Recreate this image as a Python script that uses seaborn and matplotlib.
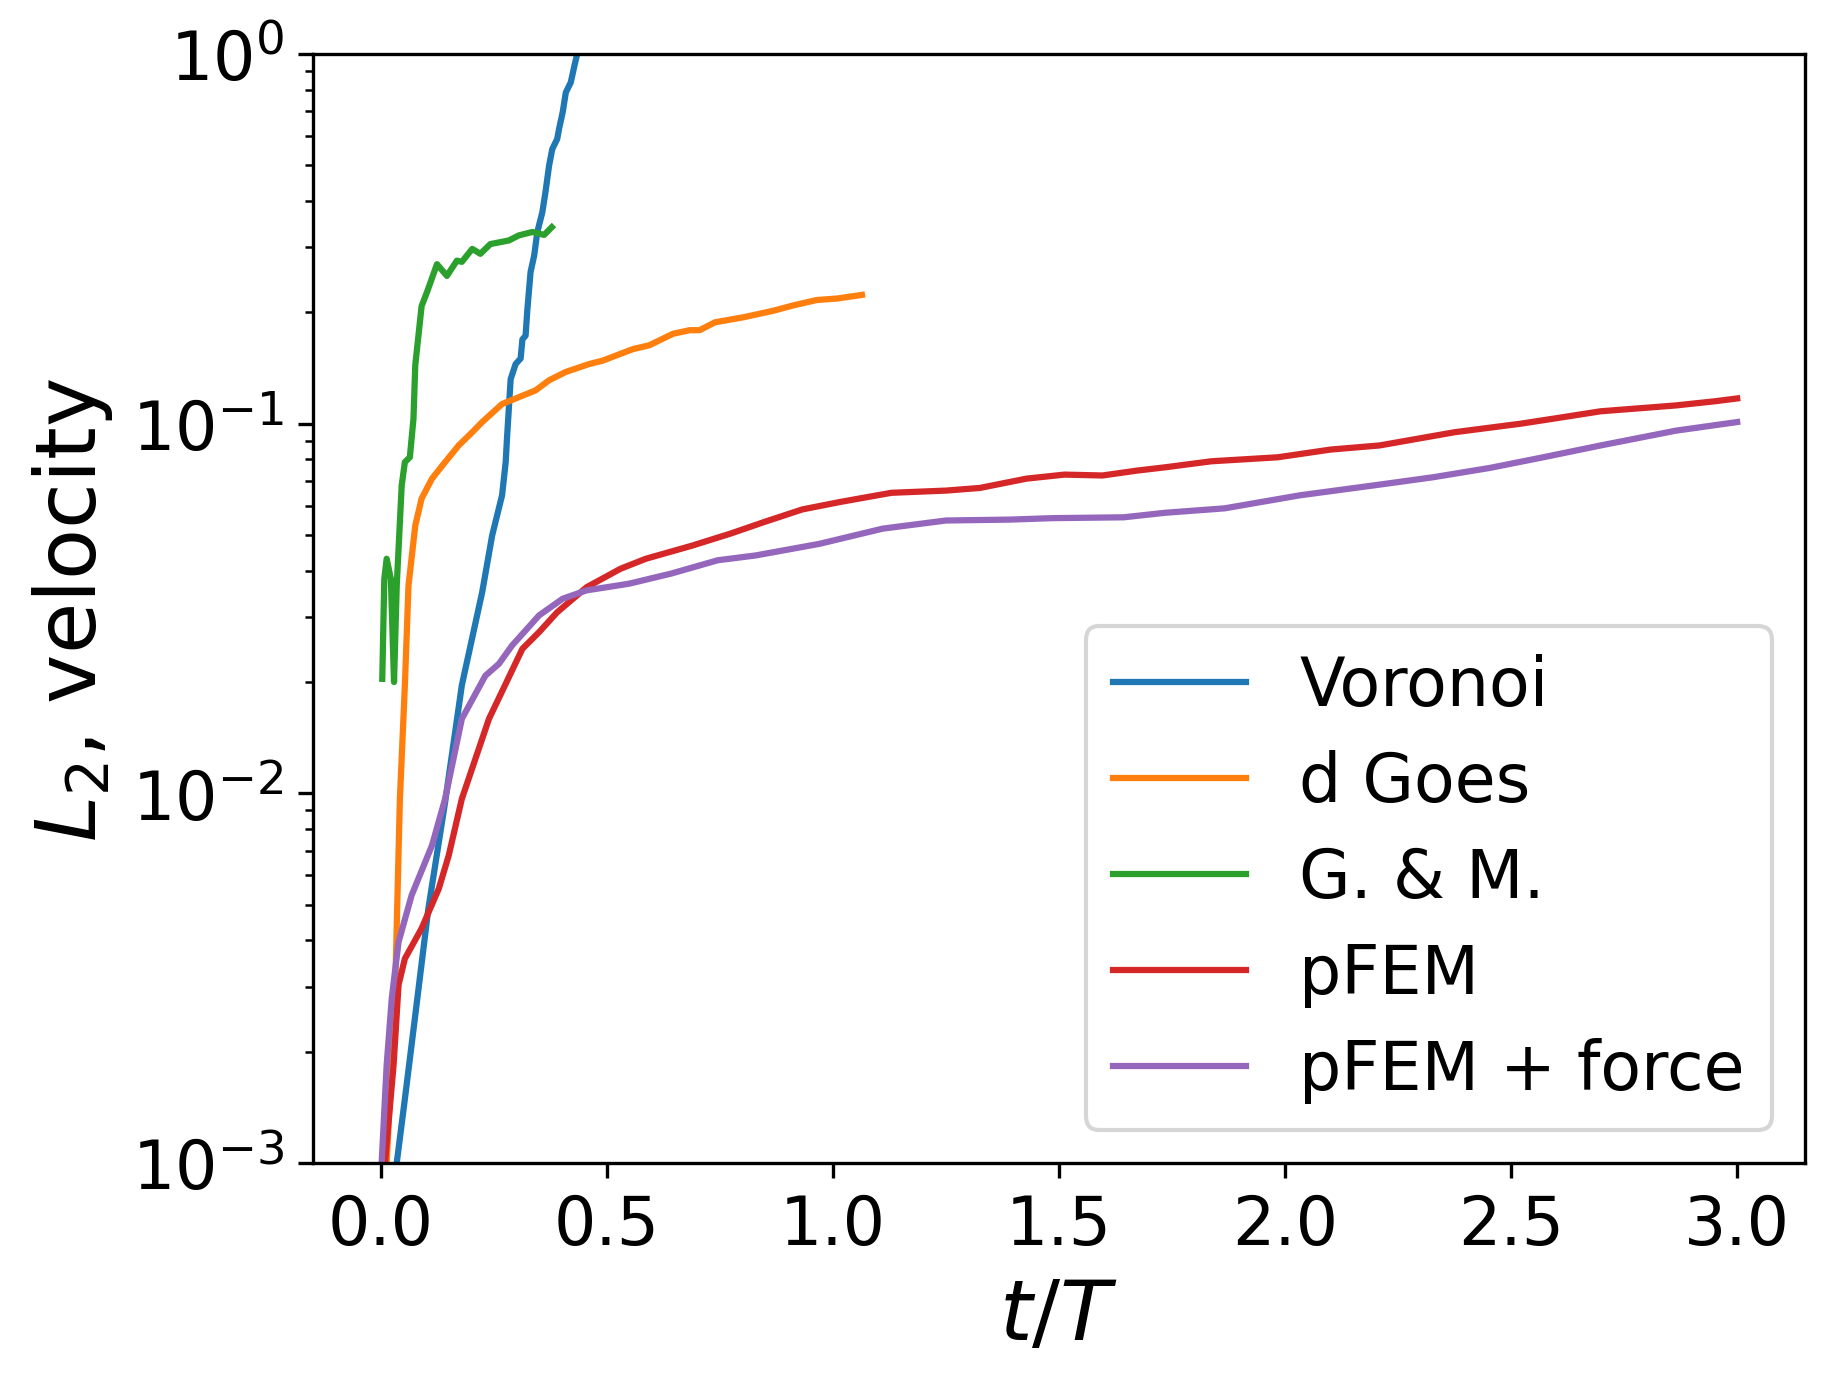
import pandas as pd
import seaborn as sns
import matplotlib
import matplotlib.pyplot as plt

matplotlib.use('Agg')

# Values (t/T, L2 velocity error)
voronoi_t = [0.035, 0.053, 0.076, 0.105, 0.142, 0.179, 0.224, 0.246, 0.268, 0.276, 0.279,
             0.287, 0.298, 0.309, 0.313, 0.320, 0.324, 0.331, 0.339, 0.346, 0.357, 0.364,
             0.372, 0.379, 0.390, 0.394, 0.402, 0.409, 0.420, 0.428, 0.435, 0.445]
voronoi_l2 = [0.00100, 0.00149, 0.00251, 0.00488, 0.00946, 0.0196, 0.0350, 0.0498, 0.0640,
              0.0787, 0.0918, 0.132, 0.145, 0.150, 0.169, 0.173, 0.204, 0.257, 0.285, 0.330,
              0.373, 0.423, 0.499, 0.553, 0.589, 0.627, 0.695, 0.787, 0.838, 0.929, 1.01, 1.12]

goes_t = [0.0127, 0.031, 0.042, 0.053, 0.061, 0.076, 0.090, 0.113, 0.142, 0.172, 0.202,
          0.224, 0.268, 0.313, 0.342, 0.372, 0.409, 0.461, 0.490, 0.557, 0.594, 0.646,
          0.683, 0.705, 0.739, 0.802, 0.868, 0.913, 0.964, 1.009, 1.064]
goes_l2 = [0.00100, 0.00279, 0.00966, 0.0196, 0.0365, 0.0530, 0.0627, 0.0710, 0.0787,
           0.0873, 0.0948, 0.101, 0.113, 0.119, 0.123, 0.131, 0.138, 0.145, 0.148, 0.159,
           0.163, 0.175, 0.179, 0.179, 0.188, 0.194, 0.202, 0.209, 0.216, 0.218, 0.223]

gm_t = [0.003, 0.0075, 0.0127, 0.022, 0.029, 0.035, 0.046, 0.053, 0.064, 0.072, 0.076,
        0.090, 0.102, 0.124, 0.146, 0.168, 0.179, 0.202, 0.220, 0.242, 0.283, 0.305,
        0.335, 0.361, 0.378]
gm_l2 = [0.0204, 0.038, 0.0431, 0.038, 0.0200, 0.0365, 0.0681, 0.0787, 0.0811, 0.103,
         0.144, 0.208, 0.227, 0.270, 0.251, 0.276, 0.274, 0.297, 0.288, 0.306, 0.313,
         0.323, 0.330, 0.324, 0.340]

pfem_t = [0.009, 0.028, 0.039, 0.053, 0.090, 0.128, 0.150, 0.179, 0.239, 0.313, 0.350,
          0.390, 0.455, 0.530, 0.586, 0.689, 0.773, 0.848, 0.932, 1.016, 1.129, 1.250,
          1.325, 1.428, 1.512, 1.596, 1.671, 1.735, 1.837, 1.984, 2.101, 2.209, 2.375,
          2.522, 2.590, 2.698, 2.864, 2.952, 3.0]
pfem_l2 = [0.00100, 0.00184, 0.00303, 0.00357, 0.00431, 0.00552, 0.00679, 0.00966, 0.0159,
           0.0246, 0.0273, 0.0309, 0.0361, 0.0405, 0.0431, 0.0468, 0.0504, 0.0542, 0.0586,
           0.0614, 0.0650, 0.0659, 0.0670, 0.0710, 0.0728, 0.0724, 0.0746, 0.0762, 0.0791,
           0.0811, 0.0851, 0.0873, 0.0948, 0.100, 0.103, 0.108, 0.112, 0.115, 0.117]

force_t = [0.0016, 0.0127, 0.024, 0.039, 0.068, 0.113, 0.142, 0.179, 0.231, 0.261, 0.290,
           0.350, 0.402, 0.455, 0.549, 0.642, 0.745, 0.829, 0.970, 1.110, 1.250, 1.390,
           1.484, 1.643, 1.735, 1.866, 2.033, 2.209, 2.327, 2.453, 2.571, 2.698, 2.864, 3.0]
force_l2 = [0.00100, 0.00184, 0.00279, 0.00396, 0.00530, 0.00723, 0.00966, 0.0159, 0.0208,
            0.0224, 0.0251, 0.0303, 0.0336, 0.0354, 0.0369, 0.0393, 0.0427, 0.0440, 0.0473,
            0.0520, 0.0547, 0.0550, 0.0555, 0.0558, 0.0574, 0.0590, 0.0640, 0.0684, 0.0716,
            0.0759, 0.0811, 0.0873, 0.0957, 0.101]

methods = ["Voronoi", "d Goes", "G. & M.", "pFEM", "pFEM + force"]
colors = ["#1f77b4", "#ff7f0e", "#2ca02c", "#d62728", "#9467bd"]

# Build one long table for seaborn
frames = []
for name, t, l2 in zip(methods,
                       [voronoi_t, goes_t, gm_t, pfem_t, force_t],
                       [voronoi_l2, goes_l2, gm_l2, pfem_l2, force_l2]):
    frames.append(pd.DataFrame({"t": t, "L2": l2, "method": name}))
df = pd.concat(frames, ignore_index=True)

fig, ax = plt.subplots(figsize=(1831 / 300, 1385 / 300), dpi=300)
fig.subplots_adjust(left=0.171, right=0.9858, top=0.9603, bottom=0.1596)

sns.lineplot(data=df, x="t", y="L2", hue="method", hue_order=methods,
             palette=colors, estimator=None, sort=False, linewidth=1.5, ax=ax)

ax.set_yscale("log")
ax.set_ylim(1e-3, 1)
ax.set_xlim(-0.15, 3.15)
ax.set_xticks([0.0, 0.5, 1.0, 1.5, 2.0, 2.5, 3.0])
ax.tick_params(labelsize=16)
ax.set_xlabel("$t/T$", fontsize=20)
ax.set_ylabel("$L_2$, velocity", fontsize=20)

sns.move_legend(ax, "lower right", title=None, fontsize=16, labelspacing=0.45)

fig.savefig("out.png", dpi=300)
plt.close(fig)
